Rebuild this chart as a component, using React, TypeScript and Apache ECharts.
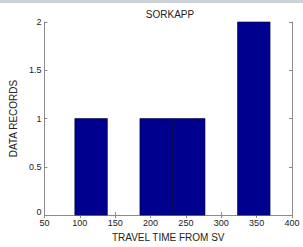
import React, { useEffect, useRef } from "react";
import * as echarts from "echarts";

const titleText = "SORKAPP";
const xName = "TRAVEL TIME FROM SV";
const yName = "DATA RECORDS";
const binEdges = [93, 139, 185, 231, 277, 323, 369];
const counts = [1, 0, 1, 1, 0, 2];
const xTicks = [50, 100, 150, 200, 250, 300, 350, 400];
const yTicks = [0, 0.5, 1, 1.5, 2];

export default function App() {
  const ref = useRef<HTMLDivElement>(null);
  useEffect(() => {
    document.body.style.margin = "0";
    const chart = echarts.init(ref.current!, null, { renderer: "svg" });
    const data = counts.map((c, i) => [binEdges[i], binEdges[i + 1], c]);
    const axisLine = { lineStyle: { color: "#8a8a8a", width: 1 } };
    const tickStyle = { show: true, inside: true, length: 3, lineStyle: { color: "#8a8a8a" } };
    const font = "Liberation Sans, Arial, sans-serif";
    chart.setOption({
      animation: false,
      backgroundColor: "#ffffff",
      textStyle: { fontFamily: font },
      title: {
        text: titleText,
        left: 165,
        textAlign: "center",
        top: 4,
        textStyle: { fontSize: 10, fontWeight: "normal", color: "#222", fontFamily: font },
      },
      graphic: [
        { type: "rect", shape: { x: 0, y: 0, width: 303, height: 3 }, style: { fill: "#cbd2da" } },
      ],
      grid: { left: 39, right: 11, top: 22, bottom: 25, containLabel: false },
      xAxis: [
        {
          type: "value",
          min: xTicks[0],
          max: xTicks[xTicks.length - 1],
          interval: 50,
          position: "bottom",
          name: xName,
          nameLocation: "middle",
          nameGap: 15,
          nameTextStyle: { fontSize: 10, color: "#222", fontFamily: font },
          axisLine: { show: true, ...axisLine },
          axisTick: tickStyle,
          splitLine: { show: false },
          axisLabel: { fontSize: 9, color: "#222", margin: 3, fontFamily: font },
        },
        {
          type: "value",
          min: xTicks[0],
          max: xTicks[xTicks.length - 1],
          interval: 50,
          position: "top",
          axisLine: { show: true, ...axisLine },
          axisTick: tickStyle,
          splitLine: { show: false },
          axisLabel: { show: false },
        },
      ],
      yAxis: [
        {
          type: "value",
          min: yTicks[0],
          max: yTicks[yTicks.length - 1],
          interval: 0.5,
          position: "left",
          name: yName,
          nameLocation: "middle",
          nameGap: 19,
          nameTextStyle: { fontSize: 10, color: "#222", fontFamily: font },
          axisLine: { show: true, ...axisLine },
          axisTick: tickStyle,
          splitLine: { show: false },
          axisLabel: {
            fontSize: 9,
            color: "#222",
            margin: 3,
            fontFamily: font,
            formatter: (v: number) => (v === 0 ? "{z|0}" : String(v)),
            rich: { z: { fontSize: 9, color: "#222", fontFamily: font, padding: [0, 0, 6, 0] } },
          },
        },
        {
          type: "value",
          min: yTicks[0],
          max: yTicks[yTicks.length - 1],
          interval: 0.5,
          position: "right",
          axisLine: { show: true, ...axisLine },
          axisTick: tickStyle,
          splitLine: { show: false },
          axisLabel: { show: false },
        },
      ],
      series: [
        {
          type: "custom",
          xAxisIndex: 0,
          yAxisIndex: 0,
          encode: { x: [0, 1], y: 2 },
          data,
          renderItem: (params: any, api: any) => {
            const c = api.value(2);
            if (!c) return null;
            const p0 = api.coord([api.value(0), 0]);
            const p1 = api.coord([api.value(1), c]);
            return {
              type: "rect",
              shape: { x: p0[0], y: p1[1], width: p1[0] - p0[0], height: p0[1] - p1[1] },
              style: { fill: "#00008f", stroke: "#000033", lineWidth: 0.6 },
            };
          },
        },
      ],
    });
    return () => chart.dispose();
  }, []);
  return <div ref={ref} style={{ width: 303, height: 247 }} />;
}
